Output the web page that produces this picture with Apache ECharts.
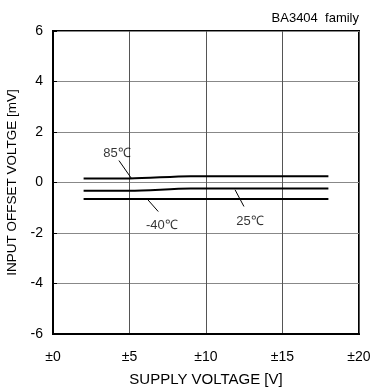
<!DOCTYPE html>
<html><head><meta charset="utf-8">
<script src="https://cdn.jsdelivr.net/npm/echarts@6/dist/echarts.min.js"></script>
<style>html,body{margin:0;padding:0;background:#fff}#c{width:373px;height:392px}</style>
</head><body><div id="c"></div>
<script>
const xTicks = [0, 5, 10, 15, 20];
const yTicks = [-6, -4, -2, 0, 2, 4, 6];
const series85 = [[2, 0.16], [5, 0.16], [9, 0.25], [18, 0.25]];
const series25 = [[2, -0.33], [5, -0.33], [9, -0.24], [18, -0.24]];
const seriesM40 = [[2, -0.65], [5, -0.65], [9, -0.65], [18, -0.65]];
const labelNames = ['85℃', '-40℃', '25℃'];
const labelPos = [[4.18, 1.15], [7.12, -1.71], [12.88, -1.56]];
const leaders = [
  [[4.31, 0.87], [5.14, 0.15]],
  [[6.21, -0.69], [6.88, -1.15]],
  [[11.9, -0.29], [12.48, -0.95]]
];
const FONT = '"Liberation Sans", Arial, sans-serif';
const chart = echarts.init(document.getElementById('c'), null, {renderer: 'canvas'});
const lineStyle = {color: '#000', width: 2};
chart.setOption({
  animation: false,
  backgroundColor: '#fff',
  title: {text: 'BA3404  family', right: 9, top: 7, textStyle: {fontFamily: FONT, fontSize: 13, fontWeight: 'normal', color: '#000'}},
  grid: {left: 53, right: 14, top: 31, bottom: 58, outerBoundsMode: 'none', containLabel: false, show: true, borderColor: '#000', borderWidth: 2, backgroundColor: 'transparent'},
  xAxis: {
    type: 'value', min: xTicks[0], max: xTicks[xTicks.length - 1], interval: 5,
    name: 'SUPPLY VOLTAGE [V]', nameLocation: 'middle', nameGap: 38,
    nameTextStyle: {fontFamily: FONT, fontSize: 15, color: '#000'},
    axisLine: {show: true, onZero: false, lineStyle: {color: '#000', width: 2}},
    axisTick: {show: false},
    axisLabel: {fontFamily: FONT, fontSize: 14, color: '#000', margin: 16, formatter: v => '±' + v},
    splitLine: {show: true, lineStyle: {color: '#555', width: 1}}
  },
  yAxis: {
    type: 'value', min: yTicks[0], max: yTicks[yTicks.length - 1], interval: 2,
    name: 'INPUT OFFSET VOLTGE [mV]', nameLocation: 'middle', nameGap: 29,
    nameTextStyle: {fontFamily: FONT, fontSize: 13.5, color: '#000'},
    axisLine: {show: true, onZero: false, lineStyle: {color: '#000', width: 2}},
    axisTick: {show: true, inside: true, length: 4, lineStyle: {color: '#000'}},
    axisLabel: {fontFamily: FONT, fontSize: 14, color: '#000', margin: 10},
    splitLine: {show: true, lineStyle: {color: '#888', width: 1}}
  },
  series: [
    {type: 'line', name: '85℃', data: series85, symbol: 'none', smooth: 0.3, lineStyle},
    {type: 'line', name: '25℃', data: series25, symbol: 'none', smooth: 0.3, lineStyle},
    {type: 'line', name: '-40℃', data: seriesM40, symbol: 'none', lineStyle},
    {type: 'scatter', data: labelPos.map((p, i) => ({value: p, name: labelNames[i]})), symbolSize: 0,
     label: {show: true, position: 'inside', formatter: p => p.name, fontFamily: FONT, fontSize: 13, color: '#000'},
     silent: true},
    {type: 'line', data: [], symbol: 'none', silent: true,
     markLine: {symbol: 'none', silent: true, label: {show: false},
       lineStyle: {color: '#000', width: 1, type: 'solid'},
       data: leaders.map(l => [{coord: l[0]}, {coord: l[1]}])}}
  ]
});
</script></body></html>
